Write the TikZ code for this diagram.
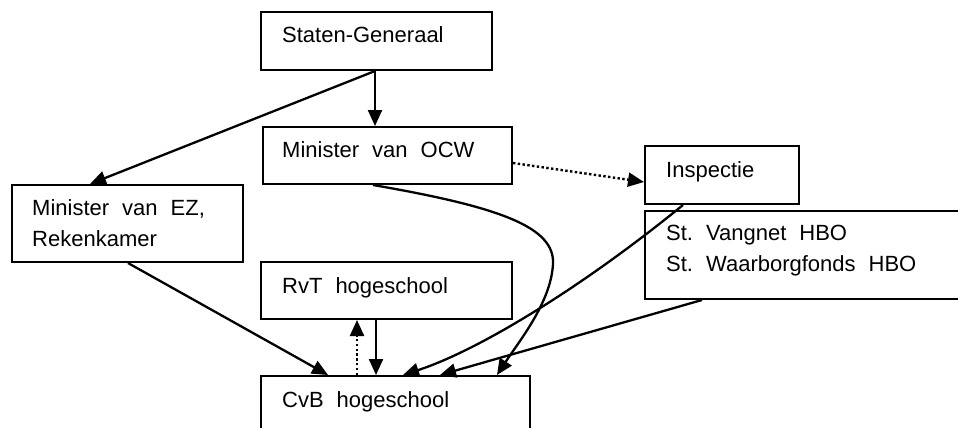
\documentclass[tikz,border=0pt]{standalone}
\usepackage{fontspec}
\setmainfont{Liberation Sans}
\usetikzlibrary{arrows.meta}
\newcommand{\wsp}{\hspace{13pt}}
\begin{document}
\begin{tikzpicture}[x=1pt,y=-1pt,
  box/.style={draw,line width=2pt,rectangle,inner sep=0pt,anchor=north west},
  lbl/.style={anchor=base west,inner sep=0pt,font=\fontsize{22}{26}\selectfont},
  conn/.style={line width=2.3pt,-{Triangle[length=16pt,width=14pt]}},
  dotconn/.style={line width=2.4pt,dash pattern=on 2.4pt off 2.4pt,-{Triangle[length=16pt,width=14pt]}}]
\clip (0,0) rectangle (958,428);
\fill[white] (0,0) rectangle (958,428);
% boxes
\node[box,minimum width=231pt,minimum height=58pt] (sg) at (260,11) {};
\node[box,minimum width=249pt,minimum height=57pt] (ocw) at (262,126) {};
\node[box,minimum width=154pt,minimum height=58pt] (ins) at (644,145) {};
\node[box,minimum width=231pt,minimum height=77pt] (ez) at (11,184) {};
\node[box,minimum width=331pt,minimum height=88pt] (st) at (644,210) {};
\node[box,minimum width=251pt,minimum height=57pt] (rvt) at (260,261) {};
\node[box,minimum width=269pt,minimum height=70pt] (cvb) at (260,375) {};
% texts
\node[lbl] (tsg) at (282,43) {Staten-Generaal};
\node[lbl] (tocw) at (282,157) {Minister\wsp van\wsp OCW};
\node[lbl] (tins) at (666,177) {Inspectie};
\node[lbl] (tez1) at (32,215) {Minister\wsp van\wsp EZ,};
\node[lbl] (tez2) at (32,246) {Rekenkamer};
\node[lbl] (tst1) at (666,240) {St.\wsp Vangnet\wsp HBO};
\node[lbl] (tst2) at (666,271) {St.\wsp Waarborgfonds\wsp HBO};
\node[lbl] (trvt) at (282,293) {RvT\wsp hogeschool};
\node[lbl] (tcvb) at (282,407) {CvB\wsp hogeschool};
% connectors
\draw[conn] ([xshift=115pt]sg.south west) -- ([xshift=113pt]ocw.north west);
\draw[conn] ([xshift=115pt]sg.south west) -- ([xshift=79pt]ez.north west);
\draw[dotconn] ([yshift=-37pt]ocw.north east) -- ([yshift=-37pt]ins.north west);
\draw[conn] ([xshift=111pt]ocw.south west) .. controls +(127,22) and +(2,-37) .. ++(180,79) .. controls +(-2,38) and (520,340) .. ([xshift=237pt]cvb.north west);
\draw[conn] ([xshift=39pt]ins.south west) .. controls (585,285) and (480,350) .. ([xshift=143pt]cvb.north west);
\draw[conn] ([xshift=58pt]st.south west) -- ([xshift=180pt]cvb.north west);
\draw[conn] ([xshift=117pt]ez.south west) -- ([xshift=68pt]cvb.north west);
\draw[dotconn] ([xshift=97pt]cvb.north west) -- ([xshift=97pt]rvt.south west);
\draw[conn] ([xshift=116pt]rvt.south west) -- ([xshift=116pt]cvb.north west);
\end{tikzpicture}
\end{document}
